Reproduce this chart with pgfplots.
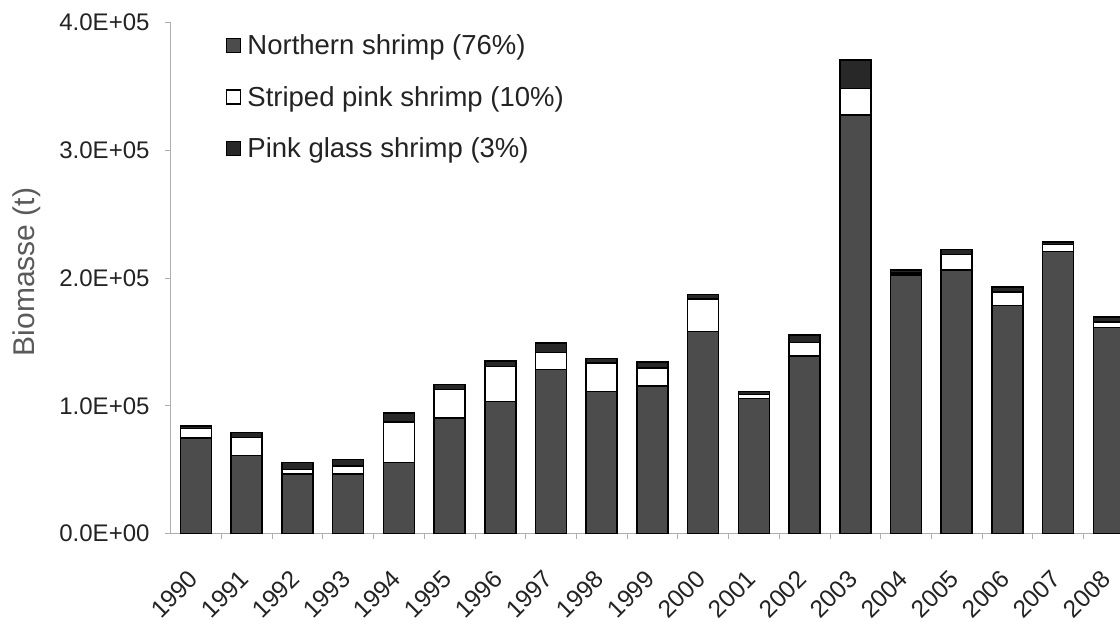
\documentclass[border=0pt]{standalone}
\usepackage{pgfplots}
\usepackage{pgfplotstable}
\pgfplotsset{compat=1.18}
\usepackage{fontspec}
\setmainfont{Liberation Sans}
\definecolor{north}{RGB}{76,76,76}
\definecolor{glass}{RGB}{40,40,40}
\definecolor{axg}{RGB}{175,175,175}
\definecolor{txt}{RGB}{35,35,35}
\definecolor{lab}{RGB}{90,90,90}
\pgfplotstableread{
x N S G
0 74800 7400 2000
1 61000 14000 4000
2 46500 3700 5400
3 46500 6200 5300
4 55600 31700 7000
5 90500 22400 3900
6 103500 27400 4100
7 128500 13100 7500
8 111300 22200 3400
9 115500 14000 4700
10 158200 25500 3400
11 105600 3400 2300
12 138900 10500 5900
13 327700 20600 22200
14 202500 1600 2300
15 206400 12000 4100
16 178500 10400 3900
17 220700 5500 1800
18 161100 4400 3900
}\data
\begin{document}
\begin{tikzpicture}[x=1pt,y=1pt]
\begin{axis}[
  at={(170pt,96.5pt)}, anchor=south west,
  scale only axis, width=950pt, height=511pt,
  xmin=-0.513, xmax=18.22, ymin=0, ymax=400000,
  ybar stacked, bar width=31pt,
  axis x line*=bottom, axis y line*=left,
  axis line style={axg, line width=0.8pt},
  xtick={0,...,18},
  xticklabels={1990,1991,1992,1993,1994,1995,1996,1997,1998,1999,2000,2001,2002,2003,2004,2005,2006,2007,2008},
  major x tick style={draw=none},
  minor xtick={0.5,1.5,...,17.5},
  minor x tick style={axg, line width=0.6pt},
  minor tick length=5pt,
  ytick={0,100000,200000,300000,400000},
  yticklabels={0.0E+00,1.0E+05,2.0E+05,3.0E+05,4.0E+05},
  scaled y ticks=false,
  major y tick style={axg, line width=0.6pt},
  tick align=outside, major tick length=5pt,
  y tick label style={font=\fontsize{24}{26}\selectfont, text=txt, xshift=-12pt},
  x tick label style={font=\fontsize{24.5}{26}\selectfont, text=txt, rotate=45, anchor=north east, xshift=-24pt, yshift=-12pt},
  ylabel={Biomasse (t)},
  ylabel style={font=\fontsize{30}{32}\selectfont, text=lab, at={(axis description cs:-0.151,0.512)}, anchor=center},
  legend style={at={(axis description cs:0.059,0.982)}, anchor=north west, draw=none, fill=none,
    font=\fontsize{27.5}{29}\selectfont, text=txt, row sep=24pt, inner sep=0pt,
    nodes={inner sep=3pt}, column sep=3pt},
  legend cell align=left,
  legend image code/.code={\draw[#1, line width=1.2pt] (0pt,-7pt) rectangle (14pt,7pt);},
  clip=true,
]
\addplot[fill=north, draw=black, line width=1.5pt] table[x=x,y=N]{\data};
\addplot[fill=white, draw=black, line width=1.5pt] table[x=x,y=S]{\data};
\addplot[fill=glass, draw=black, line width=1.5pt] table[x=x,y=G]{\data};
\legend{Northern shrimp (76\%),Striped pink shrimp (10\%),Pink glass shrimp (3\%)}
\end{axis}
\pgfresetboundingbox
\useasboundingbox (0,0) rectangle (1120,630);
\end{tikzpicture}
\end{document}
